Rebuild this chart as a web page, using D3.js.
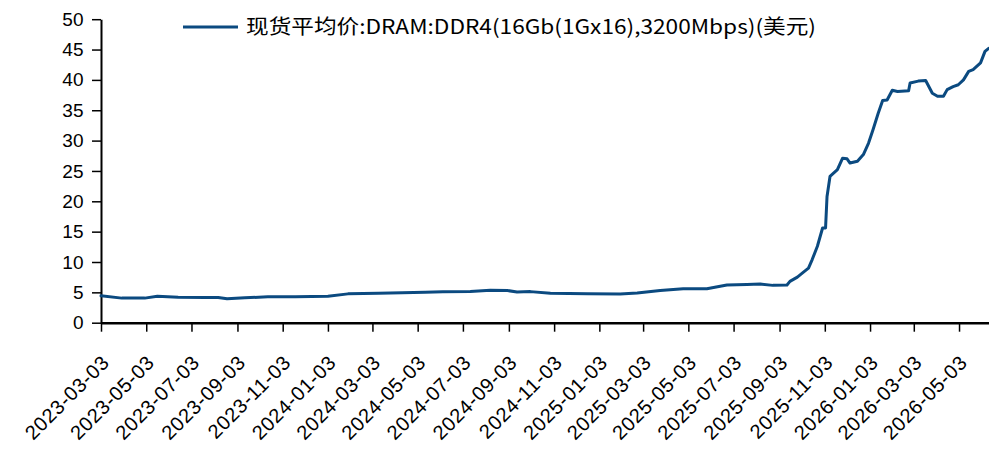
<!DOCTYPE html>
<html><head><meta charset="utf-8">
<script src="https://cdn.jsdelivr.net/npm/d3@7/dist/d3.min.js"></script>
<style>
html,body{margin:0;padding:0;background:#fff;}
svg{display:block;}
</style></head>
<body>
<svg id="chart" width="989" height="455"></svg>
<script>
const seriesName = "现货平均价:DRAM:DDR4(16Gb(1Gx16),3200Mbps)(美元)";
const dates = [
"2023-03-03","2023-03-31","2023-05-01","2023-05-18","2023-06-15","2023-07-21","2023-08-08","2023-08-20",
"2023-09-13","2023-10-14","2023-11-20","2024-01-03","2024-01-30","2024-03-11","2024-04-12","2024-05-13",
"2024-06-06","2024-07-13","2024-08-09","2024-09-01","2024-09-14","2024-10-02","2024-10-29","2024-12-18",
"2025-01-31","2025-02-23","2025-03-26","2025-04-26","2025-05-28","2025-06-06","2025-06-24","2025-07-21",
"2025-08-08","2025-08-25","2025-09-13","2025-09-17","2025-09-27","2025-10-04","2025-10-12","2025-10-17",
"2025-10-24","2025-10-31","2025-11-04","2025-11-06","2025-11-10","2025-11-20","2025-11-27","2025-12-03",
"2025-12-07","2025-12-17","2025-12-25","2026-01-01","2026-01-07","2026-01-14","2026-01-20","2026-01-26",
"2026-02-02","2026-02-09","2026-02-24","2026-02-26","2026-03-09","2026-03-19","2026-03-28","2026-04-04",
"2026-04-12","2026-04-17","2026-04-25","2026-05-02","2026-05-09","2026-05-16","2026-05-22","2026-06-01",
"2026-06-07","2026-06-12"
];
const values = [
4.43,4.05,4.05,4.37,4.20,4.15,4.15,3.93,
4.10,4.26,4.26,4.37,4.75,4.87,4.92,5.00,
5.10,5.15,5.35,5.30,5.05,5.12,4.85,4.78,
4.73,4.90,5.30,5.60,5.60,5.80,6.20,6.30,
6.37,6.15,6.20,6.80,7.50,8.20,9.00,10.4,
12.6,15.6,15.6,20.8,24.1,25.2,27.1,27.0,
26.3,26.6,27.7,29.6,31.8,34.5,36.6,36.7,
38.3,38.1,38.2,39.5,39.8,39.9,37.8,37.3,
37.3,38.4,38.9,39.2,40.0,41.4,41.7,42.8,
44.7,45.2
];
const yTicks = [0,5,10,15,20,25,30,35,40,45,50];
const xTickLabels = ["2023-03-03","2023-05-03","2023-07-03","2023-09-03","2023-11-03","2024-01-03","2024-03-03",
"2024-05-03","2024-07-03","2024-09-03","2024-11-03","2025-01-03","2025-03-03","2025-05-03","2025-07-03",
"2025-09-03","2025-11-03","2026-01-03","2026-03-03","2026-05-03"];

const parse = d3.timeParse("%Y-%m-%d");
const data = dates.map((d,i)=>({date:parse(d), value:values[i]}));

const svg = d3.select("#chart");
const x = d3.scaleTime().domain(d3.extent(data,d=>d.date)).range([101, 988.7]);
const y = d3.scaleLinear().domain([0,50]).range([322.7, 19.2]);

// y axis
const yAxis = svg.append("g").attr("transform","translate(101,0)")
  .call(d3.axisLeft(y).tickValues(yTicks).tickSize(9).tickSizeOuter(0));
yAxis.select(".domain").attr("stroke","#000").attr("stroke-width",2);
yAxis.selectAll(".tick line").attr("stroke","#000").attr("stroke-width",1.5);
yAxis.selectAll(".tick text").attr("font-family","'Liberation Sans', Arial, sans-serif")
  .attr("font-size",19).attr("fill","#000").attr("x",-17.5);

// x axis
const xAxis = svg.append("g").attr("transform","translate(0,322.7)")
  .call(d3.axisBottom(x).tickValues(xTickLabels.map(parse)).tickSize(9).tickSizeOuter(0)
    .tickFormat(d3.timeFormat("%Y-%m-%d")));
xAxis.select(".domain").attr("stroke","#000").attr("stroke-width",2.5);
xAxis.selectAll(".tick line").attr("stroke","#000").attr("stroke-width",1.5);
xAxis.selectAll(".tick text")
  .attr("font-family","'Liberation Sans', Arial, sans-serif").attr("font-size",20).attr("fill","#000")
  .attr("letter-spacing","0.7px")
  .attr("text-anchor","end").attr("dy",null).attr("y",null)
  .attr("transform","translate(9,41) rotate(-45)");

// line
svg.append("path").datum(data)
  .attr("fill","none").attr("stroke","#0b4a80").attr("stroke-width",3)
  .attr("stroke-linejoin","round").attr("stroke-linecap","round")
  .attr("d", d3.line().x(d=>x(d.date)).y(d=>y(d.value)));

// legend
const lg = svg.append("g");
lg.append("line").attr("x1",183).attr("x2",238).attr("y1",27).attr("y2",27)
  .attr("stroke","#0b4a80").attr("stroke-width",3.2);
lg.append("text").attr("x",246).attr("y",34)
  .attr("font-family","'Noto Sans CJK SC', sans-serif").attr("font-size",20).attr("fill","#000")
  .attr("textLength",570).attr("lengthAdjust","spacingAndGlyphs")
  .text(seriesName);
</script>
</body></html>
